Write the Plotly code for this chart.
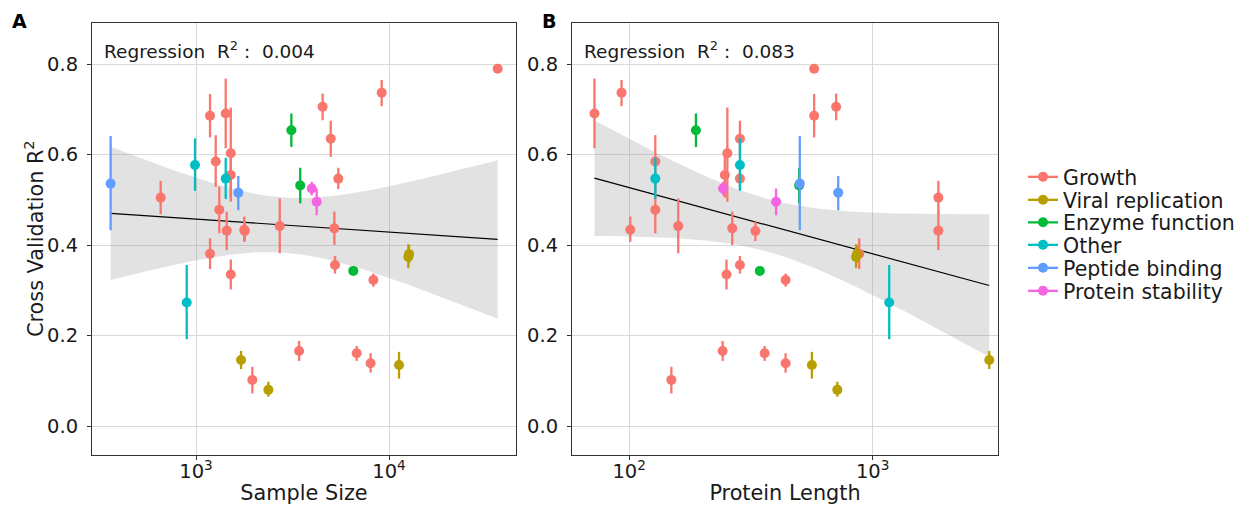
import numpy as np
import plotly.graph_objects as go

# ---------------- data ----------------
categories = ["Growth", "Viral replication", "Enzyme function", "Other",
              "Peptide binding", "Protein stability"]
colors = ["#F8766D", "#B79F00", "#00BA38", "#00BFC4", "#619CFF", "#F564E3"]

category = (["Growth"] * 25 + ["Viral replication"] * 5 + ["Enzyme function"] * 3
            + ["Other"] * 3 + ["Peptide binding"] * 2 + ["Protein stability"] * 2)

sample_size = [656, 1182, 1425, 1265, 1514, 1514, 1320, 1442, 1778, 1790,
               2716, 1182, 1514, 1958, 3420, 4530, 4990, 5460, 5210, 9160,
               36560, 5250, 8300, 6800, 8030,
               1711, 2371, 11270, 12590, 12700,
               3119, 3467, 6530,
               988, 1425, 895,
               361, 1656,
               3977, 4218]

protein_length = [1862, 575, 72, 128, 253, 247, 128, 1862, 101, 330,
                  159, 881, 251, 149, 242, 708, 285, 285, 265, 93,
                  575, 285, 439, 360, 439,
                  3013, 716, 563, 855, 862,
                  188, 499, 344,
                  285, 128, 1170,
                  502, 722,
                  243, 401]

r2 = [0.505, 0.686, 0.691, 0.585, 0.603, 0.555, 0.478, 0.432, 0.434, 0.431,
      0.442, 0.381, 0.335, 0.102, 0.166, 0.706, 0.635, 0.547, 0.437, 0.737,
      0.790, 0.356, 0.323, 0.161, 0.139,
      0.146, 0.080, 0.135, 0.374, 0.380,
      0.654, 0.532, 0.343,
      0.577, 0.547, 0.273,
      0.536, 0.516,
      0.525, 0.496]

r2_low = [0.468, 0.638, 0.614, 0.529, 0.496, 0.505, 0.426, 0.389, 0.407, 0.409,
          0.382, 0.347, 0.302, 0.072, 0.144, 0.676, 0.595, 0.524, 0.400, 0.707,
          0.790, 0.337, 0.308, 0.144, 0.118,
          0.126, 0.065, 0.105, 0.349, 0.360,
          0.617, 0.492, 0.343,
          0.520, 0.502, 0.192,
          0.433, 0.477,
          0.510, 0.466]

r2_high = [0.542, 0.734, 0.768, 0.643, 0.704, 0.600, 0.529, 0.474, 0.463, 0.452,
           0.503, 0.415, 0.368, 0.131, 0.188, 0.735, 0.675, 0.571, 0.474, 0.765,
           0.790, 0.376, 0.337, 0.177, 0.161,
           0.166, 0.098, 0.164, 0.402, 0.400,
           0.691, 0.571, 0.343,
           0.636, 0.593, 0.356,
           0.641, 0.553,
           0.540, 0.525]

regression_labels = ["0.004", "0.083"]
panel_labels = ["A", "B"]
x_titles = ["Sample Size", "Protein Length"]
y_title = "Cross Validation R<sup>2</sup>"
x_tickvals = [[1000, 10000], [100, 1000]]
x_ticktext = [["10<sup>3</sup>", "10<sup>4</sup>"], ["10<sup>2</sup>", "10<sup>3</sup>"]]
y_tickvals = [0.0, 0.2, 0.4, 0.6, 0.8]

# ---------------- figure ----------------
W, H = 1240, 505
FONT = "DejaVu Sans"
TITLE_SIZE = 20.8
fig = go.Figure()

cat_arr = np.array(category)
y_arr = np.array(r2)
lo_arr = np.array(r2_low)
hi_arr = np.array(r2_high)

T975 = 2.024  # t quantile, df = n - 2 = 38


def add_panel(xvals, xa, ya):
    x = np.array(xvals, dtype=float)
    lx = np.log10(x)
    n = len(lx)
    b1, b0 = np.polyfit(lx, y_arr, 1)
    resid = y_arr - (b0 + b1 * lx)
    s = np.sqrt(np.sum(resid ** 2) / (n - 2))
    sxx = np.sum((lx - lx.mean()) ** 2)
    gx = np.linspace(lx.min(), lx.max(), 80)
    gy = b0 + b1 * gx
    se = s * np.sqrt(1.0 / n + (gx - lx.mean()) ** 2 / sxx)
    up, dn = gy + T975 * se, gy - T975 * se
    fig.add_trace(go.Scatter(
        x=np.concatenate([10 ** gx, 10 ** gx[::-1]]),
        y=np.concatenate([up, dn[::-1]]),
        fill="toself", fillcolor="rgba(150,150,150,0.28)",
        line=dict(width=0), mode="lines", hoverinfo="skip",
        showlegend=False, xaxis=xa, yaxis=ya))
    fig.add_trace(go.Scatter(
        x=10 ** gx, y=gy, mode="lines", line=dict(color="black", width=1.2),
        showlegend=False, hoverinfo="skip", xaxis=xa, yaxis=ya))
    for cat, col in zip(categories, colors):
        m = cat_arr == cat
        fig.add_trace(go.Scatter(
            x=x[m], y=y_arr[m], mode="markers",
            marker=dict(color=col, size=10),
            error_y=dict(type="data", symmetric=False,
                         array=hi_arr[m] - y_arr[m],
                         arrayminus=y_arr[m] - lo_arr[m],
                         color=col, thickness=2.3, width=0),
            showlegend=False, xaxis=xa, yaxis=ya))


add_panel(sample_size, "x", "y")
add_panel(protein_length, "x2", "y2")

px = lambda p: p / W
py = lambda p: (H - p) / H

# legend entries: one legend box per row so that rows follow the reference spacing
legend_rows = [177, 200, 222.5, 245, 268, 291]
legend_layouts = {}
for i, (cat, col) in enumerate(zip(categories, colors)):
    lname = "legend" if i == 0 else f"legend{i + 1}"
    fig.add_trace(go.Scatter(
        x=[None], y=[None], mode="lines+markers", name=cat, legend=lname,
        marker=dict(color=col, size=10), line=dict(color=col, width=2.3),
        xaxis="x", yaxis="y"))
    legend_layouts[lname] = dict(
        x=px(1023), y=py(legend_rows[i]), xanchor="left", yanchor="middle",
        font=dict(family=FONT, size=20.5, color="#1a1a1a"),
        bgcolor="rgba(0,0,0,0)", borderwidth=0, itemwidth=30)

axis_common = dict(
    showgrid=True, gridcolor="#D9D9D9", gridwidth=1.4, zeroline=False,
    showline=True, mirror=True, linecolor="#333333", linewidth=1,
    ticks="outside", ticklen=4, tickcolor="#333333", tickwidth=1,
    tickfont=dict(family=FONT, size=19.5, color="#1a1a1a"),
)

fig.update_layout(
    width=W, height=H,
    margin=dict(l=0, r=0, t=0, b=0),
    paper_bgcolor="white", plot_bgcolor="white",
    font=dict(family=FONT, color="#1a1a1a"),
    xaxis=dict(domain=[px(92), px(516)], type="log", range=[2.461, 4.658],
               tickvals=x_tickvals[0], ticktext=x_ticktext[0], anchor="y",
               ticklabelstandoff=-5,
               title=dict(text=x_titles[0], font=dict(family=FONT, size=TITLE_SIZE), standoff=3),
               **axis_common),
    yaxis=dict(domain=[py(455), py(23)], range=[-0.064, 0.891],
               tickvals=y_tickvals, tickformat=".1f", anchor="x",
               ticklabelstandoff=5,
               **axis_common),
    xaxis2=dict(domain=[px(572), px(998)], type="log", range=[1.765, 3.515],
                tickvals=x_tickvals[1], ticktext=x_ticktext[1], anchor="y2",
                ticklabelstandoff=-5,
                title=dict(text=x_titles[1], font=dict(family=FONT, size=TITLE_SIZE), standoff=3),
                **axis_common),
    yaxis2=dict(domain=[py(455), py(23)], range=[-0.064, 0.891],
                tickvals=y_tickvals, tickformat=".1f", anchor="x2",
                ticklabelstandoff=5,
                **axis_common),
    showlegend=True,
    **legend_layouts,
)

# y-axis title
fig.add_annotation(
    x=px(34), y=py(239), xref="paper", yref="paper", xanchor="center", yanchor="middle",
    text=y_title, textangle=-90, showarrow=False,
    font=dict(family=FONT, size=TITLE_SIZE, color="#1a1a1a"))

# regression annotations and panel labels
nb = "\u00a0"
for x0, lab in zip([102, 582], regression_labels):
    fig.add_annotation(
        x=px(x0), y=py(50), xref="paper", yref="paper", xanchor="left", yanchor="middle",
        text=f"Regression{nb}{nb}R<sup>2</sup>{nb}:{nb}{nb}{lab}", showarrow=False,
        font=dict(family=FONT, size=18.5, color="#1a1a1a"))
for x0, lab in zip([19, 549], panel_labels):
    fig.add_annotation(
        x=px(x0), y=py(21), xref="paper", yref="paper", xanchor="center", yanchor="middle",
        text=f"<b>{lab}</b>", showarrow=False,
        font=dict(family=FONT, size=19, color="black"))

fig.write_html(
    "out.html",
    config={"displayModeBar": False},
    post_script="document.body.style.margin='0';document.body.style.overflow='hidden';",
)
